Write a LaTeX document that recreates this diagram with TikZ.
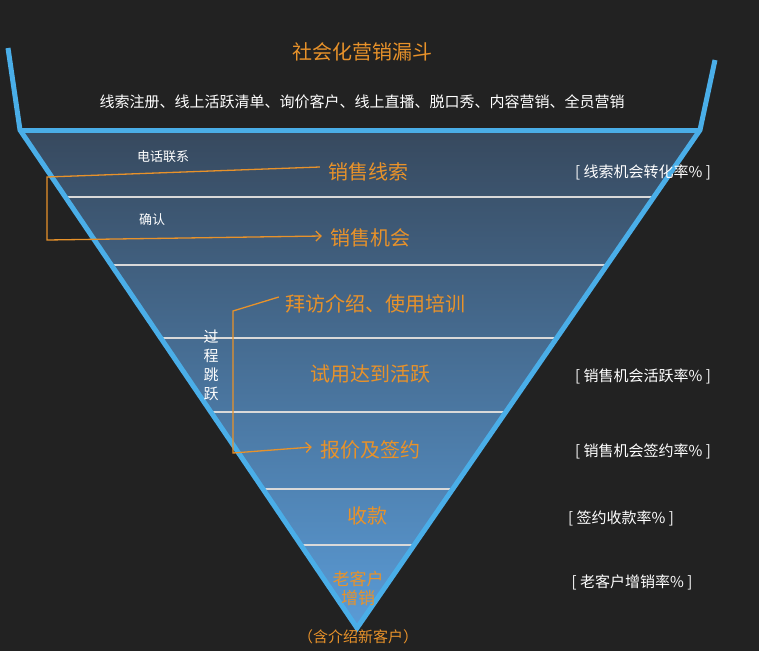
\documentclass[tikz,border=0pt]{standalone}
\usepackage{fontspec}
\setmainfont{Noto Sans CJK SC}
\usetikzlibrary{arrows.meta}
\definecolor{bg}{HTML}{222222}
\definecolor{fb}{HTML}{4AAEE8}
\definecolor{org}{HTML}{E8922A}
\definecolor{ttop}{HTML}{37495E}
\definecolor{tbot}{HTML}{5A9BD6}
\begin{document}
\begin{tikzpicture}[x=1pt,y=-1pt,
  stage/.style={text=org,font=\fontsize{20}{22}\selectfont,inner sep=0pt},
  wt/.style={text=white,font=\fontsize{15}{17}\selectfont,inner sep=0pt},
  sm/.style={text=white,font=\fontsize{13}{15}\selectfont,inner sep=0pt},
  conn/.style={draw=org,line width=1.3pt},
  sep/.style={draw=white!85!black,line width=1.2pt}]
\fill[bg] (0,0) rectangle (759,651);
\useasboundingbox (0,0) rectangle (759,651);
\coordinate (TL) at (20,130); \coordinate (TR) at (700,130); \coordinate (AP) at (357,628);
\shade[top color=ttop,bottom color=tbot] (TL) -- (TR) -- (AP) -- cycle;
\foreach \y in {197,265,338,412,489,545}{
  \draw[sep] ({20+0.677*(\y-130)},\y) -- ({700-0.689*(\y-130)},\y);}
\draw[fb,line width=5pt,line join=miter] (8,48) -- (TL) -- (AP) -- (TR) -- (715,60);
\draw[fb,line width=5pt] (TL) -- (TR);
\node[stage] (title) at (362,52) {社会化营销漏斗};
\node[wt] (sub) at (362,102) {线索注册、线上活跃清单、询价客户、线上直播、脱口秀、内容营销、全员营销};
\node[sm] (call) at (163,157) {电话联系};
\node[sm] (conf) at (152,220) {确认};
\node[stage] (s1) at (368,172) {销售线索};
\node[stage] (s2) at (370,238) {销售机会};
\node[stage] (s3) at (375,304) {拜访介绍、使用培训};
\node[stage] (s4) at (370,374) {试用达到活跃};
\node[stage] (s5) at (370,450) {报价及签约};
\node[stage] (s6) at (367,516) {收款};
\node[stage,font=\fontsize{17}{19}\selectfont,align=center] (s7) at (358,588) {老客户\\增销};
\node[stage,font=\fontsize{15}{17}\selectfont] (s8) at (358,637) {（含介绍新客户）};
\node[sm,font=\fontsize{15}{19}\selectfont,align=center] (jump) at (211,365) {过\\程\\跳\\跃};
\node[wt] (r1) at (643,172) {[ 线索机会转化率\% ]};
\node[wt] (r2) at (643,376) {[ 销售机会活跃率\% ]};
\node[wt] (r3) at (643,451) {[ 销售机会签约率\% ]};
\node[wt] (r4) at (621,518) {[ 签约收款率\% ]};
\node[wt] (r5) at (632,582) {[ 老客户增销率\% ]};
\draw[conn,-{Straight Barb[length=5pt,width=10pt]}] ([xshift=-8pt,yshift=5pt]s1.west) -- (47,177) -- (47,240) -- ([xshift=-8pt,yshift=2pt]s2.west);
\draw[conn,-{Straight Barb[length=5pt,width=10pt]}] ([xshift=-6pt,yshift=7pt]s3.west) -- (233,311) -- (233,453) -- ([xshift=-8pt,yshift=3pt]s5.west);
\end{tikzpicture}
\end{document}
